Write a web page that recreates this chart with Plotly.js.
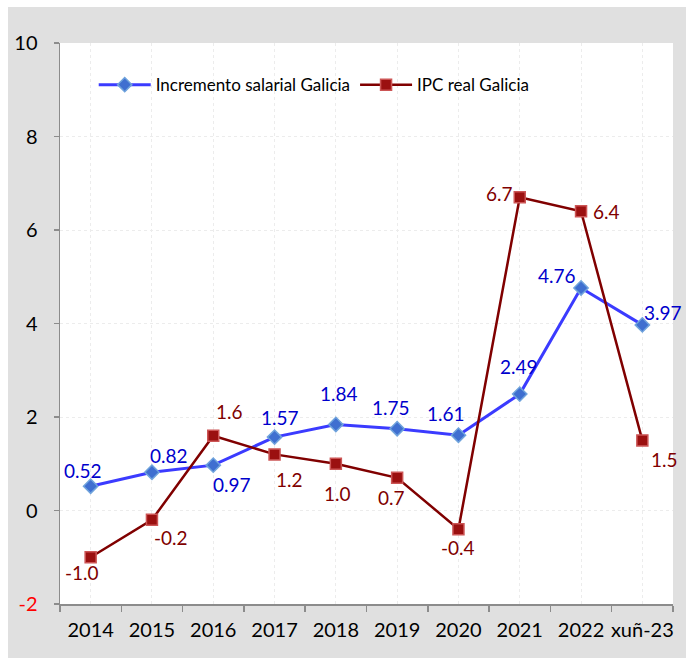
<!DOCTYPE html>
<html><head><meta charset="utf-8">
<script src="https://cdn.plot.ly/plotly-3.0.1.min.js"></script>
<style>
html,body{margin:0;padding:0;background:#fff;width:686px;height:660px;overflow:hidden}
#chart{position:absolute;left:8px;top:7px;width:678px;height:651px}
</style></head><body>
<div id="chart"></div>
<script>
const categories = ["2014","2015","2016","2017","2018","2019","2020","2021","2022","xuñ-23"];
const salario = [0.52,0.82,0.97,1.57,1.84,1.75,1.61,2.49,4.76,3.97];
const ipc = [-1.0,-0.2,1.6,1.2,1.0,0.7,-0.4,6.7,6.4,1.5];
const salarioLabels = ["0.52","0.82","0.97","1.57","1.84","1.75","1.61","2.49","4.76","3.97"];
const ipcLabels = ["-1.0","-0.2","1.6","1.2","1.0","0.7","-0.4","6.7","6.4","1.5"];
const yTickVals = [-2,0,2,4,6,8,10];
const yTickText = ['<span style="color:#ff0000">-2</span>',"0","2","4","6","8","10"];

// label offsets in px (dx right, dy down)
const salarioOff = [[-8,-16],[17,-17],[19,19],[5,-20],[3,-31],[-6,-21],[-12,-22],[-1,-28],[-24,-12],[21,-12]];
const ipcOff = [[-9,15],[19,18],[16,-24],[15,25],[2,30],[-6,20],[0,18],[-20,-4],[25,0],[22,19]];

const FONT = "Lato, 'Open Sans', sans-serif";
const blueLbl = "#0000cc", redLbl = "#7f0000";

const traces = [
  {x: [0], y: [0], xaxis: "x2", yaxis: "y", mode: "markers", marker: {opacity: 0}, showlegend: false, hoverinfo: "skip"},
  {x: categories, y: salario, type: "scatter", mode: "lines+markers", name: "Incremento salarial Galicia",
   line: {color: "#3b3bff", width: 3},
   marker: {symbol: "diamond", size: 11, color: "#3f6fd0", line: {color: "#6fa3dc", width: 1.5}}},
  {x: categories, y: ipc, type: "scatter", mode: "lines+markers", name: "IPC real Galicia",
   line: {color: "#800000", width: 2.5},
   marker: {symbol: "square", size: 11, color: "#9b1010", line: {color: "#cc5555", width: 1.5}}}
];

const annotations = [];
categories.forEach((c, i) => {
  annotations.push({x: i, y: salario[i], xref: "x", yref: "y", text: salarioLabels[i], showarrow: false,
    xshift: salarioOff[i][0], yshift: -salarioOff[i][1], font: {family: FONT, size: 19, color: blueLbl}});
  annotations.push({x: i, y: ipc[i], xref: "x", yref: "y", text: ipcLabels[i], showarrow: false,
    xshift: ipcOff[i][0], yshift: -ipcOff[i][1], font: {family: FONT, size: 19, color: redLbl}});
});

const layout = {
  width: 678, height: 651,
  paper_bgcolor: "#e0e0e0", plot_bgcolor: "#ffffff",
  margin: {l: 52, r: 13, t: 36, b: 54},
  font: {family: FONT, size: 19, color: "#000"},
  showlegend: true,
  legend: {orientation: "h", x: 0.055, y: 0.925, xanchor: "left", yanchor: "middle", itemwidth: 52,
           bgcolor: "rgba(0,0,0,0)", font: {family: FONT, size: 17, color: "#000"}, traceorder: "normal"},
  xaxis: {type: "category", range: [-0.5, 9.5], showgrid: true, gridcolor: "#ececec", griddash: "dot", gridwidth: 1,
          ticks: "", showline: false, zeroline: false, ticklabelstandoff: 12,
          tickfont: {family: FONT, size: 20, color: "#000"}},
  xaxis2: {overlaying: "x", type: "linear", range: [-0.5, 9.5], tickmode: "array",
           tickvals: [-0.5,0.5,1.5,2.5,3.5,4.5,5.5,6.5,7.5,8.5,9.5], showticklabels: false,
           ticks: "outside", ticklen: 6, tickcolor: "#8c8c8c", tickwidth: 1.5,
           showline: true, linecolor: "#8c8c8c", linewidth: 1.5, showgrid: false, zeroline: false,
           side: "bottom", anchor: "y"},
  yaxis: {range: [-2, 10], tickmode: "array", tickvals: yTickVals, ticktext: yTickText,
          showgrid: true, gridcolor: "#ececec", griddash: "dot", zeroline: false,
          showline: true, linecolor: "#8c8c8c", linewidth: 1.5,
          ticks: "outside", ticklen: 5, tickcolor: "#8c8c8c", tickwidth: 1.5, ticklabelstandoff: 12,
          tickfont: {family: FONT, size: 20, color: "#000"}},
  annotations: annotations
};

Plotly.newPlot("chart", traces, layout, {displayModeBar: false, staticPlot: true});
</script>
</body></html>
